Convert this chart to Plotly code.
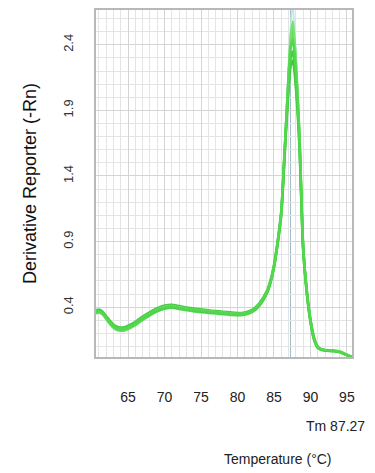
import plotly.graph_objects as go

# Melt-curve data: temperature (°C) and derivative reporter (-Rn) for each well
temperature = [60.6, 61.0, 61.5, 62.0, 62.5, 63.0, 63.5, 64.0, 64.5, 65.0,
               66.0, 67.0, 68.0, 69.0, 70.0, 71.0, 72.0, 73.0, 74.0, 75.0,
               76.0, 77.0, 78.0, 79.0, 80.0, 81.0, 82.0, 83.0, 84.0, 84.5,
               85.0, 85.5, 86.0, 86.5, 87.0, 87.3, 87.6, 88.0, 88.5, 89.0,
               89.5, 90.0, 90.5, 91.0, 91.5, 92.0, 93.0, 94.0, 95.0, 95.7]

well_1 = [0.36, 0.37, 0.355, 0.32, 0.285, 0.255, 0.238, 0.232, 0.235, 0.245,
          0.275, 0.315, 0.35, 0.38, 0.40, 0.405, 0.395, 0.385, 0.378, 0.372,
          0.365, 0.36, 0.355, 0.35, 0.345, 0.35, 0.37, 0.42, 0.51, 0.59,
          0.71, 0.89, 1.12, 1.63, 2.15, 2.38, 2.44, 2.20, 1.68, 0.86,
          0.52, 0.30, 0.16, 0.095, 0.078, 0.072, 0.068, 0.06, 0.035, 0.018]

well_2 = [0.35, 0.36, 0.345, 0.31, 0.272, 0.243, 0.226, 0.220, 0.223, 0.233,
          0.262, 0.302, 0.338, 0.368, 0.388, 0.395, 0.386, 0.376, 0.368, 0.362,
          0.356, 0.351, 0.346, 0.341, 0.336, 0.342, 0.362, 0.41, 0.50, 0.58,
          0.70, 0.88, 1.10, 1.60, 2.14, 2.42, 2.52, 2.26, 1.70, 0.87,
          0.51, 0.29, 0.15, 0.09, 0.074, 0.069, 0.065, 0.058, 0.033, 0.016]

well_3 = [0.37, 0.38, 0.365, 0.33, 0.296, 0.266, 0.25, 0.244, 0.247, 0.258,
          0.288, 0.328, 0.362, 0.392, 0.412, 0.418, 0.408, 0.397, 0.39, 0.383,
          0.376, 0.37, 0.365, 0.36, 0.355, 0.36, 0.38, 0.43, 0.52, 0.60,
          0.72, 0.90, 1.13, 1.62, 2.10, 2.30, 2.35, 2.12, 1.64, 0.85,
          0.53, 0.31, 0.17, 0.10, 0.08, 0.074, 0.07, 0.062, 0.037, 0.02]

well_4 = [0.355, 0.372, 0.36, 0.325, 0.288, 0.26, 0.242, 0.236, 0.238, 0.248,
          0.278, 0.318, 0.352, 0.383, 0.404, 0.41, 0.40, 0.39, 0.382, 0.376,
          0.37, 0.364, 0.359, 0.353, 0.348, 0.352, 0.372, 0.42, 0.51, 0.59,
          0.71, 0.89, 1.12, 1.64, 2.20, 2.48, 2.58, 2.30, 1.72, 0.88,
          0.52, 0.30, 0.16, 0.095, 0.078, 0.072, 0.067, 0.06, 0.035, 0.018]

well_5 = [0.365, 0.375, 0.36, 0.325, 0.29, 0.26, 0.24, 0.234, 0.237, 0.247,
          0.276, 0.314, 0.347, 0.375, 0.394, 0.40, 0.392, 0.382, 0.374, 0.368,
          0.362, 0.357, 0.352, 0.347, 0.342, 0.347, 0.367, 0.415, 0.505, 0.585,
          0.705, 0.885, 1.11, 1.60, 2.06, 2.24, 2.28, 2.08, 1.62, 0.84,
          0.51, 0.29, 0.155, 0.092, 0.076, 0.07, 0.066, 0.059, 0.034, 0.017]

well_6 = [0.385, 0.39, 0.37, 0.33, 0.29, 0.26, 0.24, 0.234, 0.237, 0.248,
          0.28, 0.322, 0.358, 0.39, 0.41, 0.416, 0.405, 0.393, 0.385, 0.378,
          0.371, 0.365, 0.36, 0.354, 0.349, 0.353, 0.373, 0.42, 0.51, 0.59,
          0.71, 0.89, 1.12, 1.65, 2.25, 2.56, 2.70, 2.36, 1.74, 0.88,
          0.52, 0.30, 0.16, 0.095, 0.078, 0.072, 0.068, 0.06, 0.035, 0.018]

wells = [well_6, well_2, well_3, well_4, well_5, well_1]
well_colors = ["#b8e9df", "#62dc5c", "#47cc46", "#78e172", "#40c941", "#52d74e"]
well_widths = [1.6, 2.6, 2.6, 2.2, 2.6, 2.6]

tm_value = 87.27
x_ticks = [65, 70, 75, 80, 85, 90, 95]
y_ticks = [0.4, 0.9, 1.4, 1.9, 2.4]

fig = go.Figure()

for values, color, width in zip(wells, well_colors, well_widths):
    fig.add_trace(go.Scatter(
        x=temperature, y=values, mode="lines",
        line=dict(color=color, width=width, shape="spline", smoothing=0.6),
        hoverinfo="skip", showlegend=False,
    ))

# Melting temperature marker
fig.add_vline(x=tm_value, line=dict(color="#a3bccb", width=1), layer="below")

fig.update_layout(
    width=375, height=473,
    margin=dict(l=96, r=23, t=8, b=116),
    paper_bgcolor="white", plot_bgcolor="white",
    font=dict(family="Liberation Sans, Arial, sans-serif", color="#222"),
    showlegend=False,
)

fig.update_xaxes(
    range=[60.6, 95.7],
    tickmode="array", tickvals=x_ticks, ticktext=[str(v) for v in x_ticks],
    tickfont=dict(size=14, color="#222"),
    ticks="", ticklabelstandoff=26,
    showgrid=True, gridcolor="#d4d4d4", gridwidth=1,
    minor=dict(dtick=1, tick0=60, showgrid=True, gridcolor="#e4e4e4", gridwidth=1),
    showline=True, linecolor="#b8b8b8", linewidth=2, mirror=True,
    zeroline=False,
)

fig.update_yaxes(
    range=[0.02, 2.665],
    tickmode="array", tickvals=y_ticks, ticktext=[f"{v:.1f}" for v in y_ticks],
    tickfont=dict(size=13, color="#333"), tickangle=-90,
    ticks="", ticklabelstandoff=16,
    showgrid=True, gridcolor="#d4d4d4", gridwidth=1,
    minor=dict(dtick=0.1, tick0=0.0, showgrid=True, gridcolor="#e4e4e4", gridwidth=1),
    showline=True, linecolor="#b8b8b8", linewidth=2, mirror=True,
    zeroline=False,
)

fig.add_annotation(
    text="Derivative Reporter (-Rn)", textangle=-90,
    xref="paper", yref="paper", x=-0.26, y=0.5,
    xanchor="center", yanchor="middle", showarrow=False,
    font=dict(size=18, color="#111"),
)
fig.add_annotation(
    text=f"Tm {tm_value}",
    xref="paper", yref="paper", x=1.06, y=-0.2,
    xanchor="right", yanchor="middle", showarrow=False,
    font=dict(size=14, color="#222"),
)
fig.add_annotation(
    text="Temperature (°C)",
    xref="paper", yref="paper", x=0.71, y=-0.294,
    xanchor="center", yanchor="middle", showarrow=False,
    font=dict(size=14, color="#222"),
)

fig.write_html("out.html")
